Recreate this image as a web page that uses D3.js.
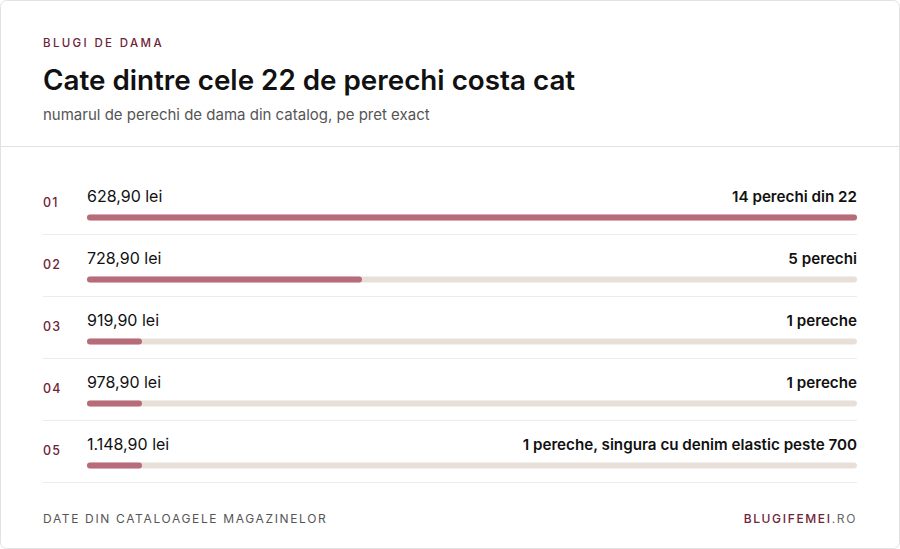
<!DOCTYPE html>
<html><head><meta charset="utf-8">
<script src="https://cdn.jsdelivr.net/npm/d3@7/dist/d3.min.js"></script>
<style>
html,body{margin:0;padding:0;background:#fff;}
svg{display:block;font-family:Inter,"Noto Sans",sans-serif;}
</style></head>
<body>
<svg id="c" width="900" height="549"></svg>
<script>
const ranks = ["01","02","03","04","05"];
const prices = ["628,90 lei","728,90 lei","919,90 lei","978,90 lei","1.148,90 lei"];
const counts = [14,5,1,1,1];
const notes = ["14 perechi din 22","5 perechi","1 pereche","1 pereche","1 pereche, singura cu denim elastic peste 700"];

const svg = d3.select("#c");
const W = 900, H = 549;
const maroon = "#6e2439";

svg.append("rect").attr("x",0.5).attr("y",0.5).attr("width",W-1).attr("height",H-1)
  .attr("rx",6).attr("fill","#fff").attr("stroke","#e2e2e2");

svg.append("text").attr("x",43).attr("y",47).text("BLUGI DE DAMA")
  .attr("font-size",11.5).attr("font-weight",500).attr("letter-spacing",2.35).attr("fill",maroon);
svg.append("text").attr("x",43).attr("y",90).text("Cate dintre cele 22 de perechi costa cat")
  .attr("font-size",27.8).attr("font-weight",600).attr("fill","#111");
svg.append("text").attr("x",43).attr("y",119.5).text("numarul de perechi de dama din catalog, pe pret exact")
  .attr("font-size",15).attr("fill","#555");
svg.append("line").attr("x1",1).attr("x2",W-1).attr("y1",146.5).attr("y2",146.5).attr("stroke","#e2e2e2");

const x = d3.scaleLinear().domain([0, d3.max(counts)]).range([87, 857]);
const y = d3.scaleBand().domain(ranks).range([172, 482]).paddingInner(0);

const rows = svg.selectAll("g.row").data(ranks).join("g").attr("class","row")
  .attr("transform", d => `translate(0,${y(d)})`);

rows.append("text").attr("x",43).attr("y",35).text(d=>d)
  .attr("font-size",12.5).attr("letter-spacing",1.2).attr("font-weight",500).attr("fill",maroon);
rows.append("text").attr("x",87).attr("y",29.5).text((d,i)=>prices[i])
  .attr("font-size",16).attr("fill","#111");
rows.append("text").attr("x",857).attr("y",29.5).attr("text-anchor","end").text((d,i)=>notes[i])
  .attr("font-size",15.2).attr("font-weight",600).attr("fill","#111");
rows.append("rect").attr("x",x(0)).attr("y",42.5).attr("height",6).attr("rx",3)
  .attr("width",x(d3.max(counts))-x(0)).attr("fill","#e8e0d8");
rows.append("rect").attr("x",x(0)).attr("y",42.5).attr("height",6).attr("rx",3)
  .attr("width",(d,i)=>x(counts[i])-x(0)).attr("fill","#b86c7a");
rows.append("line").attr("x1",43).attr("x2",857).attr("y1",62.5).attr("y2",62.5).attr("stroke","#ececec");

svg.append("text").attr("x",43).attr("y",523).text("DATE DIN CATALOAGELE MAGAZINELOR")
  .attr("font-size",12).attr("letter-spacing",1.65).attr("fill","#555");
const ft = svg.append("text").attr("x",857).attr("y",523).attr("text-anchor","end")
  .attr("font-size",12).attr("letter-spacing",1.65);
ft.append("tspan").text("BLUGIFEMEI").attr("fill",maroon).attr("font-weight",500);
ft.append("tspan").text(".RO").attr("fill","#666");
</script>
</body></html>
